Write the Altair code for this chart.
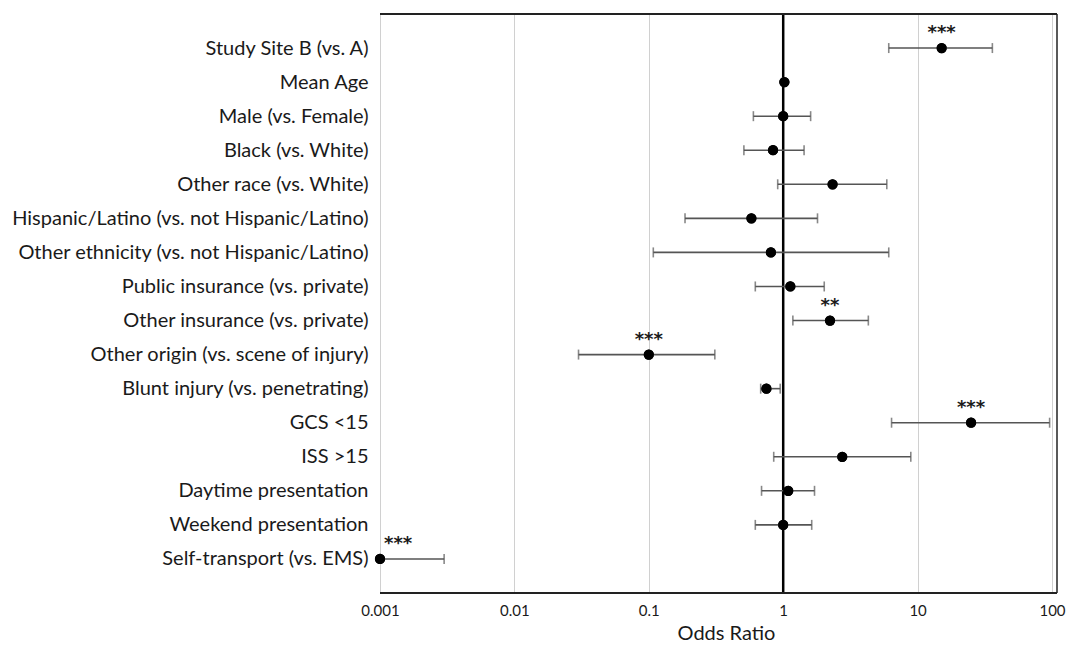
import altair as alt
import pandas as pd

categories = [
    "Study Site B (vs. A)",
    "Mean Age",
    "Male (vs. Female)",
    "Black (vs. White)",
    "Other race (vs. White)",
    "Hispanic/Latino (vs. not Hispanic/Latino)",
    "Other ethnicity (vs. not Hispanic/Latino)",
    "Public insurance (vs. private)",
    "Other insurance (vs. private)",
    "Other origin (vs. scene of injury)",
    "Blunt injury (vs. penetrating)",
    "GCS <15",
    "ISS >15",
    "Daytime presentation",
    "Weekend presentation",
    "Self-transport (vs. EMS)",
]
odds_ratio = [15.1, 1.02, 1.0, 0.84, 2.33, 0.58, 0.81, 1.13, 2.23, 0.10, 0.75, 25.0, 2.75, 1.09, 1.0, 0.001]
ci_lower = [6.1, 0.99, 0.60, 0.51, 0.91, 0.186, 0.108, 0.62, 1.18, 0.030, 0.68, 6.4, 0.85, 0.69, 0.62, 0.001]
ci_upper = [36.0, 1.04, 1.6, 1.43, 5.9, 1.8, 6.1, 2.02, 4.3, 0.31, 0.95, 96.0, 8.9, 1.71, 1.63, 0.003]
stars = ["***", "", "", "", "", "", "", "", "**", "***", "", "***", "", "", "", "***"]
tick_values = [0.001, 0.01, 0.1, 1, 10, 100]

df = pd.DataFrame({
    "cat": categories,
    "or": odds_ratio,
    "lo": ci_lower,
    "hi": ci_upper,
    "star": stars,
})

FONT = "Lato"
SCALE_W = 672
W = 677
H = 579

xscale = alt.Scale(type="log", domain=[0.001, 100], nice=False, range=[0, SCALE_W])
yscale = alt.Scale(type="point", padding=1)

base = alt.Chart(df)

y_enc = alt.Y(
    "cat:N",
    sort=categories,
    scale=yscale,
    axis=alt.Axis(
        title=None,
        labelFont=FONT,
        labelFontSize=20,
        labelColor="#1a1a1a",
        labelPadding=12,
        labelLimit=0,
        ticks=False,
        domain=False,
        grid=False,
    ),
)

x_enc = alt.X(
    "or:Q",
    scale=xscale,
    axis=alt.Axis(
        values=tick_values,
        format="~g",
        title="Odds Ratio",
        titleFont=FONT,
        titleFontSize=20,
        titleFontWeight="normal",
        titleColor="#1a1a1a",
        titlePadding=5,
        titleX=(SCALE_W / 2) + 10,
        labelFont=FONT,
        labelFontSize=15,
        labelColor="#1a1a1a",
        labelPadding=10,
        ticks=False,
        grid=True,
        gridColor="#d0d0d0",
        gridWidth=1,
        domain=False,
        labelFlush=False,
    ),
)

err = base.mark_rule(color="#555555", strokeWidth=1.6).encode(
    x=alt.X("lo:Q", scale=xscale),
    x2="hi:Q",
    y=alt.Y("cat:N", sort=categories, scale=yscale),
)

cap_lo = base.transform_filter("datum.lo > 0.001").mark_tick(
    color="#555555", orient="vertical", size=10, thickness=1.6
).encode(
    x=alt.X("lo:Q", scale=xscale),
    y=alt.Y("cat:N", sort=categories, scale=yscale),
)

cap_hi = base.mark_tick(
    color="#555555", orient="vertical", size=10, thickness=1.6
).encode(
    x=alt.X("hi:Q", scale=xscale),
    y=alt.Y("cat:N", sort=categories, scale=yscale),
)

ref = alt.Chart(pd.DataFrame({"v": [1]})).mark_rule(color="black", strokeWidth=2.5).encode(
    x=alt.X("v:Q", scale=xscale)
)

# frame: top, right and bottom edges of the plot box
frame_top = alt.Chart(pd.DataFrame({"k": [0]})).mark_rule(color="#222222", strokeWidth=2).encode(
    x=alt.value(0), x2=alt.value(W), y=alt.value(0)
)
frame_right = alt.Chart(pd.DataFrame({"k": [0]})).mark_rule(color="#222222", strokeWidth=1.5).encode(
    x=alt.value(W), y=alt.value(0), y2=alt.value(H)
)
frame_bottom = alt.Chart(pd.DataFrame({"k": [0]})).mark_rule(color="#222222", strokeWidth=2).encode(
    x=alt.value(0), x2=alt.value(W), y=alt.value(H)
)

pts = base.mark_point(filled=True, color="black", opacity=1, size=105, shape="circle").encode(
    x=x_enc,
    y=y_enc,
)

txt = base.transform_filter("datum.star != '' && datum.or > 0.001").mark_text(
    font="DejaVu Sans", fontSize=18, fontWeight="bold", color="#1a1a1a", dy=-15, baseline="middle"
).encode(
    x=alt.X("or:Q", scale=xscale),
    y=alt.Y("cat:N", sort=categories, scale=yscale),
    text="star:N",
)

txt_edge = base.transform_filter("datum.star != '' && datum.or <= 0.001").mark_text(
    font="DejaVu Sans", fontSize=18, fontWeight="bold", color="#1a1a1a", dy=-15, dx=4,
    baseline="middle", align="left"
).encode(
    x=alt.X("or:Q", scale=xscale),
    y=alt.Y("cat:N", sort=categories, scale=yscale),
    text="star:N",
)

chart = alt.layer(
    pts, ref, err, cap_lo, cap_hi, frame_top, frame_right, frame_bottom, pts, txt, txt_edge
).properties(
    width=W,
    height=H,
    autosize=alt.AutoSizeParams(type="none"),
    padding={"left": 372, "top": 6, "right": 11, "bottom": 55},
).configure_view(stroke=None)

chart.save("out.html", embed_options={"renderer": "svg", "actions": False})
